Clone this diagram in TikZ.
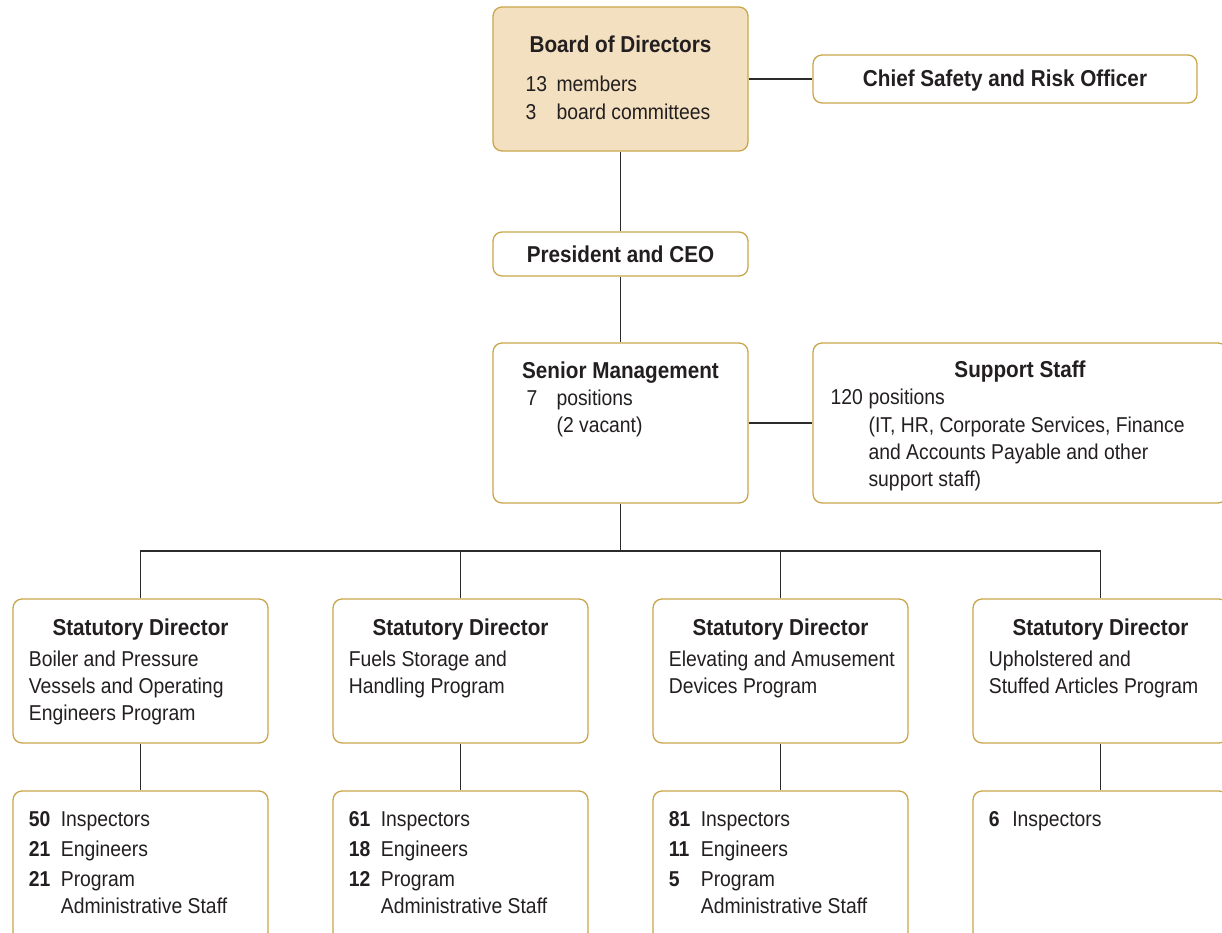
\documentclass[tikz,border=0pt]{standalone}
\usepackage{fontspec}
\setmainfont[FakeStretch=0.9]{Liberation Sans}
\usepackage{tikz}
\usetikzlibrary{positioning, calc}
\definecolor{gold}{HTML}{C9A64A}
\definecolor{boardTan}{HTML}{F3E0C0}
\definecolor{ink}{HTML}{231F20}
\definecolor{wireGray}{HTML}{2B2B2B}
\newcommand{\rows}[1]{\begin{tabular}[t]{@{}l@{}}#1\end{tabular}}
\newcommand{\num}[2][32pt]{\makebox[#1][l]{#2}}

\begin{document}
\begin{tikzpicture}[x=1pt,y=-1pt]
    \tikzset{box/.style={draw=gold,line width=1.3pt,fill=white,rounded corners=9pt,inner sep=0pt,minimum width=255pt,font=\fontsize{23}{27}\selectfont\bfseries,text=ink}, board/.style={box,fill=boardTan}, body/.style={inner sep=0pt,anchor=base west,font=\fontsize{21.5}{27}\selectfont,text=ink}, wire/.style={draw=wireGray,line width=1.6pt}}
    \useasboundingbox (0,0) rectangle (1222,933);
    \clip (0,0) rectangle (1222,933);
    % top of the chart
    \node[board,text height=46pt,text depth=98pt] (board) at (620.5,79) {Board of Directors};
    \node[body] (boardtxt) at ($(board.north west)+(33,84.7)$) {\rows{\num[31pt]{13}members\\[1.5pt] \num[31pt]{3}board committees}};
    \node[box,minimum width=384pt,text height=31.7pt,text depth=16.3pt] (cso) at (1005,79) {Chief Safety and Risk Officer};
    \node[box,text height=30pt,text depth=14pt] (ceo) at (620.5,254) {President and CEO};
    \node[box,text height=35.3pt,text depth=124.7pt] (senior) at (620.5,423) {Senior Management};
    \node[body] (seniortxt) at ($(senior.north west)+(34,63)$) {\rows{\num[30pt]{7}positions\\ \num[30pt]{}(2 vacant)}};
    \node[box,minimum width=414pt,text height=34pt,text depth=126pt] (support) at (1020,423) {Support Staff};
    \node[body] (supporttxt) at ($(support.north west)+(18,62)$) {\rows{\num[38pt]{120}positions\\[1pt] \num[38pt]{}(IT, HR, Corporate Services, Finance\\ \num[38pt]{}and Accounts Payable and other\\ \num[38pt]{}support staff)}};
    % statutory directors
    \node[box,text height=36.7pt,text depth=107.3pt] (dir1) at (140.5,671) {Statutory Director};
    \node[box,text height=36.7pt,text depth=107.3pt] (dir2) at (460.5,671) {Statutory Director};
    \node[box,text height=36.7pt,text depth=107.3pt] (dir3) at (780.5,671) {Statutory Director};
    \node[box,text height=36.7pt,text depth=107.3pt] (dir4) at (1100.5,671) {Statutory Director};
    \node[body] (dir1txt) at ($(dir1.north west)+(16.3,67.7)$) {\rows{Boiler and Pressure\\ Vessels and Operating\\ Engineers Program}};
    \node[body] (dir2txt) at ($(dir2.north west)+(16.3,67.7)$) {\rows{Fuels Storage and\\ Handling Program}};
    \node[body] (dir3txt) at ($(dir3.north west)+(16.3,67.7)$) {\rows{Elevating and Amusement\\ Devices Program}};
    \node[body] (dir4txt) at ($(dir4.north west)+(16.3,67.7)$) {\rows{Upholstered and\\ Stuffed Articles Program}};
    % staff under each program
    \node[box,minimum height=150pt] (staff1) at (140.5,866) {};
    \node[box,minimum height=150pt] (staff2) at (460.5,866) {};
    \node[box,minimum height=150pt] (staff3) at (780.5,866) {};
    \node[box,minimum height=150pt] (staff4) at (1100.5,866) {};
    \node[body] (staff1txt) at ($(staff1.north west)+(16.3,35.7)$) {\rows{\num{\bfseries 50}Inspectors\\[3pt] \num{\bfseries 21}Engineers\\[3pt] \num{\bfseries 21}Program\\ \num{}Administrative Staff}};
    \node[body] (staff2txt) at ($(staff2.north west)+(16.3,35.7)$) {\rows{\num{\bfseries 61}Inspectors\\[3pt] \num{\bfseries 18}Engineers\\[3pt] \num{\bfseries 12}Program\\ \num{}Administrative Staff}};
    \node[body] (staff3txt) at ($(staff3.north west)+(16.3,35.7)$) {\rows{\num{\bfseries 81}Inspectors\\[3pt] \num{\bfseries 11}Engineers\\[3pt] \num{\bfseries 5}Program\\ \num{}Administrative Staff}};
    \node[body] (staff4txt) at ($(staff4.north west)+(16.3,35.7)$) {\rows{\num[23.4pt]{\bfseries 6}Inspectors}};
    % connectors
    \coordinate (bus) at (620.5,551);
    \draw[wire] (board.south)--(ceo.north); \draw[wire] (board.east)--(cso.west); \draw[wire] (ceo.south)--(senior.north); \draw[wire] (senior.east)--(support.west);
    \draw[wire] (senior.south)--(bus); \draw[wire] (dir1.north) |- (bus) -| (dir4.north); \draw[wire] (dir2.north)--(dir2.north |- bus); \draw[wire] (dir3.north)--(dir3.north |- bus);
    \draw[wire] (dir1.south)--(staff1.north); \draw[wire] (dir2.south)--(staff2.north); \draw[wire] (dir3.south)--(staff3.north); \draw[wire] (dir4.south)--(staff4.north);
  \end{tikzpicture}
\end{document}
